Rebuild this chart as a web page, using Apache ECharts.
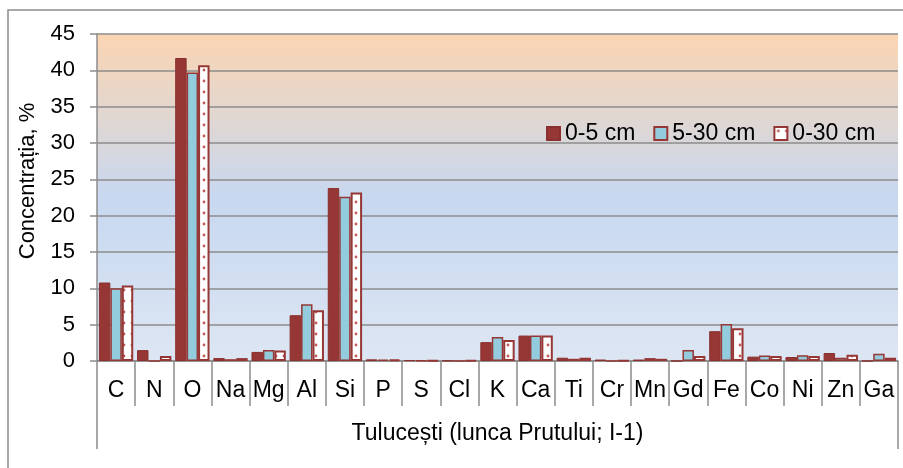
<!DOCTYPE html>
<html>
<head>
<meta charset="utf-8">
<script src="https://cdn.jsdelivr.net/npm/echarts@6/dist/echarts.min.js"></script>
<style>html,body{margin:0;padding:0;background:#fff}#c{width:903px;height:468px}</style>
</head>
<body>
<div id="c"></div>
<script>
var categories = ['C','N','O','Na','Mg','Al','Si','P','S','Cl','K','Ca','Ti','Cr','Mn','Gd','Fe','Co','Ni','Zn','Ga'];
var seriesNames = ['0-5 cm','5-30 cm','0-30 cm'];
var values0_5  = [10.8,1.5,41.7,0.4,1.25,6.3,23.8,0.23,0.12,0.05,2.6,3.5,0.45,0.2,0.2,0,4.1,0.6,0.55,1.1,0];
var values5_30 = [10.0,0,39.7,0.25,1.5,7.8,22.6,0.2,0.1,0,3.3,3.5,0.3,0,0.4,1.5,5.1,0.75,0.8,0.45,1.0];
var values0_30 = [10.4,0.7,40.7,0.4,1.45,7.0,23.2,0.2,0.08,0.1,2.9,3.5,0.45,0.05,0.3,0.7,4.5,0.7,0.7,0.85,0.45];
var groupLabel = ['Tulucești (lunca Prutului; I-1)'];
var yTitle = 'Concentrația, %';
var yMin = 0, yMax = 45, yStep = 5;

var pat = document.createElement('canvas');
pat.width = 8; pat.height = 11;
var g = pat.getContext('2d');
g.fillStyle = '#ffffff'; g.fillRect(0,0,8,11);
g.fillStyle = '#c25a57';
g.beginPath(); g.arc(4,4,1.4,0,Math.PI*2); g.fill();

var chart = echarts.init(document.getElementById('c'), null, {renderer:'canvas'});
var mainFont = '"Liberation Sans",Arial,sans-serif';
chart.setOption({
  animation:false,
  backgroundColor:'#ffffff',
  graphic:[
    {type:'rect', shape:{x:8,y:10,width:1000,height:1000}, style:{fill:null, stroke:'#8c8c8c', lineWidth:1.5}, silent:true, z:-1},
    {type:'text', x:28, y:181, rotation:Math.PI/2, style:{text:yTitle, font:'22px "Liberation Sans",Arial,sans-serif', fill:'#000', align:'center', verticalAlign:'middle'}}
  ],
  legend:{
    data:seriesNames, left:541, top:117, itemWidth:13, itemHeight:13, itemGap:18, icon:'rect',
    textStyle:{fontSize:23, fontFamily:mainFont, color:'#000'}
  },
  grid:{left:97, right:5, top:34, bottom:107, show:true, borderWidth:0,
    backgroundColor:new echarts.graphic.LinearGradient(0,0,0,1,[
      {offset:0,color:'#fbd5b2'},{offset:0.5,color:'#c7d8f0'},{offset:1,color:'#dde6f3'}])},
  xAxis:[
    {type:'category', data:categories, position:'bottom',
     axisLine:{show:true, lineStyle:{color:'#8c8c8c', width:1.5}},
     axisTick:{show:true, interval:0, length:45, alignWithLabel:false, lineStyle:{color:'#8c8c8c', width:1.5}},
     axisLabel:{interval:0, margin:18, fontSize:23, fontFamily:mainFont, color:'#000'}},
    {type:'category', data:groupLabel, position:'bottom',
     axisLine:{show:false},
     axisTick:{show:true, length:88, alignWithLabel:false, lineStyle:{color:'#8c8c8c', width:1.5}},
     axisLabel:{margin:61, fontSize:23, fontFamily:mainFont, color:'#000'}}
  ],
  yAxis:{type:'value', min:yMin, max:yMax, interval:yStep,
    axisLine:{show:true, lineStyle:{color:'#8c8c8c', width:1.5}},
    axisTick:{show:true, length:7, lineStyle:{color:'#8c8c8c', width:1.5}},
    axisLabel:{margin:22, fontSize:22, fontFamily:mainFont, color:'#000'},
    splitLine:{show:true, lineStyle:{color:'#8c8c8c', width:1.5}}},
  series:[
    {name:seriesNames[0], type:'bar', data:values0_5, barGap:'0%', barCategoryGap:'10%',
     itemStyle:{color:'#963735', borderColor:'#8a302e', borderWidth:1}},
    {name:seriesNames[1], type:'bar', data:values5_30, barGap:'0%', barCategoryGap:'10%',
     itemStyle:{color:'#93cddd', borderColor:'#963735', borderWidth:1.5}},
    {name:seriesNames[2], type:'bar', data:values0_30, barGap:'0%', barCategoryGap:'10%',
     itemStyle:{color:{image:pat, repeat:'repeat'}, borderColor:'#963735', borderWidth:2}}
  ]
});
</script>
</body>
</html>
